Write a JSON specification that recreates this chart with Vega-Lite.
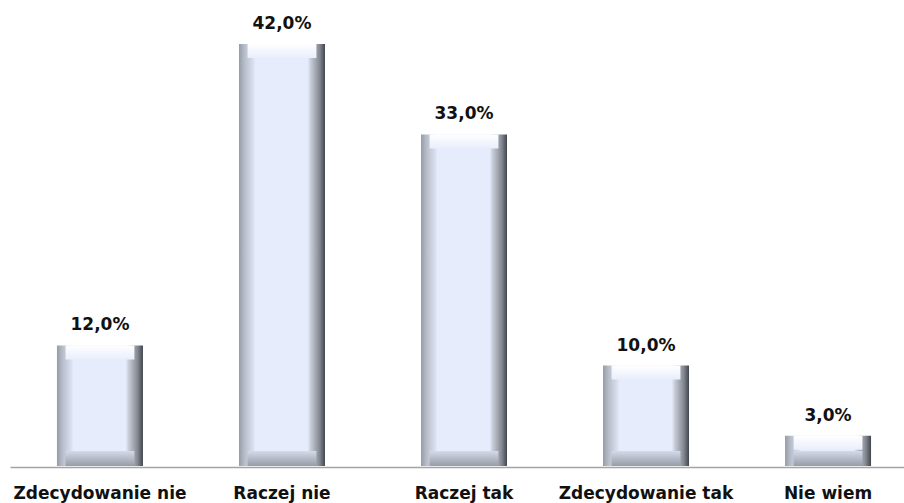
{
  "$schema": "https://vega.github.io/schema/vega-lite/v6.json",
  "autosize": {"type": "none"},
  "width": 904,
  "height": 467,
  "padding": {"left": 0, "top": 0, "right": 0, "bottom": 36},
  "background": "white",
  "config": {
    "view": {"stroke": null},
    "font": "DejaVu Sans"
  },
  "data": {
    "values": [
      {"kategoria": "Zdecydowanie nie", "wartosc": 12, "etykieta": "12,0%"},
      {"kategoria": "Raczej nie", "wartosc": 42, "etykieta": "42,0%"},
      {"kategoria": "Raczej tak", "wartosc": 33, "etykieta": "33,0%"},
      {"kategoria": "Zdecydowanie tak", "wartosc": 10, "etykieta": "10,0%"},
      {"kategoria": "Nie wiem", "wartosc": 3, "etykieta": "3,0%"}
    ]
  },
  "encoding": {
    "x": {
      "field": "kategoria",
      "type": "nominal",
      "sort": null,
      "scale": {"range": [10, 918], "paddingInner": 0.5275, "paddingOuter": 0.258},
      "axis": {
        "title": null,
        "labelAngle": 0,
        "ticks": false,
        "domainColor": "#a3a3a3",
        "domainWidth": 1.5,
        "labelFont": "DejaVu Sans",
        "labelFontSize": 17,
        "labelFontWeight": "bold",
        "labelColor": "#111111",
        "labelPadding": 31,
        "labelBaseline": "alphabetic",
        "labelOverlap": false,
        "labelLimit": 300
      }
    }
  },
  "layer": [
    {
      "mark": {
        "type": "bar",
        "fill": {
          "gradient": "linear",
          "x1": 0, "y1": 0, "x2": 1, "y2": 0,
          "stops": [
            {"offset": 0, "color": "#969ba8"},
            {"offset": 0.06, "color": "#b6bbc8"},
            {"offset": 0.17, "color": "#dce1f2"},
            {"offset": 0.19, "color": "#e6ecfc"},
            {"offset": 0.8, "color": "#e6ecfc"},
            {"offset": 0.83, "color": "#cacfdb"},
            {"offset": 0.94, "color": "#82878f"},
            {"offset": 1, "color": "#41454e"}
          ]
        }
      },
      "encoding": {
        "y": {
          "field": "wartosc",
          "type": "quantitative",
          "scale": {"domain": [0, 42], "range": [466, 44], "nice": false},
          "axis": null
        }
      }
    },
    {
      "mark": {
        "type": "bar",
        "width": {"band": 0.8},
        "y2Offset": 14,
        "fill": {
          "gradient": "linear",
          "x1": 0, "y1": 0, "x2": 0, "y2": 1,
          "stops": [
            {"offset": 0, "color": "#ffffff"},
            {"offset": 0.5, "color": "#f4f6fe"},
            {"offset": 1, "color": "#e9eefc"}
          ]
        }
      },
      "encoding": {
        "y": {"field": "wartosc", "type": "quantitative"},
        "y2": {"field": "wartosc"}
      }
    },
    {
      "mark": {
        "type": "bar",
        "width": {"band": 0.8},
        "yOffset": -15,
        "fill": {
          "gradient": "linear",
          "x1": 0, "y1": 0, "x2": 0, "y2": 1,
          "stops": [
            {"offset": 0, "color": "#d5dae8"},
            {"offset": 1, "color": "#979ca9"}
          ]
        }
      },
      "encoding": {
        "y": {"datum": 0, "type": "quantitative"},
        "y2": {"datum": 0}
      }
    },
    {
      "mark": {
        "type": "text",
        "dy": -15,
        "baseline": "alphabetic",
        "font": "DejaVu Sans",
        "fontSize": 17,
        "fontWeight": "bold",
        "color": "#111111"
      },
      "encoding": {
        "y": {"field": "wartosc", "type": "quantitative"},
        "text": {"field": "etykieta", "type": "nominal"}
      }
    }
  ]
}
